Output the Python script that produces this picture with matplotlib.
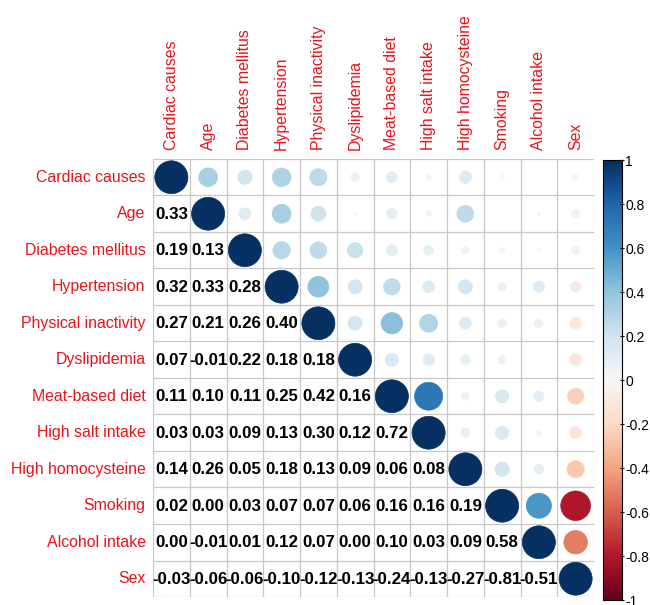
import numpy as np
import matplotlib
matplotlib.use("Agg")
import matplotlib.pyplot as plt
from matplotlib.patches import Circle
from matplotlib.colors import Normalize

labels = ["Cardiac causes", "Age", "Diabetes mellitus", "Hypertension",
          "Physical inactivity", "Dyslipidemia", "Meat-based diet",
          "High salt intake", "High homocysteine", "Smoking",
          "Alcohol intake", "Sex"]

# lower triangle rows (row i, columns 0..i-1)
lower_rows = [
    [],
    [0.33],
    [0.19, 0.13],
    [0.32, 0.33, 0.28],
    [0.27, 0.21, 0.26, 0.40],
    [0.07, -0.01, 0.22, 0.18, 0.18],
    [0.11, 0.10, 0.11, 0.25, 0.42, 0.16],
    [0.03, 0.03, 0.09, 0.13, 0.30, 0.12, 0.72],
    [0.14, 0.26, 0.05, 0.18, 0.13, 0.09, 0.06, 0.08],
    [0.02, 0.00, 0.03, 0.07, 0.07, 0.06, 0.16, 0.16, 0.19],
    [0.00, -0.01, 0.01, 0.12, 0.07, 0.00, 0.10, 0.03, 0.09, 0.58],
    [-0.03, -0.06, -0.06, -0.10, -0.12, -0.13, -0.24, -0.13, -0.27, -0.81, -0.51],
]
cbar_ticks = [-1, -0.8, -0.6, -0.4, -0.2, 0, 0.2, 0.4, 0.6, 0.8, 1]

n = len(labels)
M = np.eye(n)
for i, row in enumerate(lower_rows):
    for j, v in enumerate(row):
        M[i, j] = v
        M[j, i] = v

FONT = "Liberation Sans"
LABEL_RED = "#e8141c"
cmap = plt.get_cmap("RdBu")
norm = Normalize(-1, 1)

fig = plt.figure(figsize=(6.5, 6.05), dpi=100)
ax = fig.add_axes([153/650, 1-597/605, (594-153)/650, (597-159)/605])
ax.set_xlim(0, n)
ax.set_ylim(n, 0)
ax.set_aspect("auto")
for k in range(n + 1):
    ax.axhline(k, color="#c8c8c8", lw=0.9, zorder=1)
    ax.axvline(k, color="#c8c8c8", lw=0.9, zorder=1)

for i in range(n):
    for j in range(n):
        v = M[i, j]
        if j < i:
            ax.text(j + 0.5, i + 0.52, f"{v:.2f}", ha="center", va="center",
                    fontsize=12.2, fontweight="bold", family=FONT, color="black", zorder=3)
        else:
            r = 0.45 * np.sqrt(abs(v))
            if r > 0:
                c = Circle((j + 0.5, i + 0.5), r, facecolor=cmap(norm(v)),
                           edgecolor=cmap(norm(v)), lw=0.5, zorder=2)
                ax.add_patch(c)

ax.set_xticks([])
ax.set_yticks([])
for s in ax.spines.values():
    s.set_visible(False)

for k, lab in enumerate(labels):
    ax.text(-0.2, k + 0.5, lab, ha="right", va="center", color=LABEL_RED,
            fontsize=11.4, family=FONT)
    ax.text(k + 0.5, -0.25, lab, ha="center", va="bottom", rotation=90,
            color=LABEL_RED, fontsize=11.4, family=FONT)

cax = fig.add_axes([603/650, 1-600/605, 19/650, (600-160)/605])
grad = np.linspace(-1, 1, 256).reshape(-1, 1)
cax.imshow(grad, aspect="auto", cmap=cmap, norm=norm, origin="lower",
           extent=[0, 1, -1, 1])
cax.set_xticks([])
cax.yaxis.tick_right()
cax.set_yticks(cbar_ticks)
cax.set_yticklabels([f"{t:g}" for t in cbar_ticks], family=FONT, fontsize=10)
cax.tick_params(axis="y", length=3, width=0.8, pad=1, direction="inout")
for s in cax.spines.values():
    s.set_linewidth(0.8)

fig.savefig("out.png", dpi=100)
